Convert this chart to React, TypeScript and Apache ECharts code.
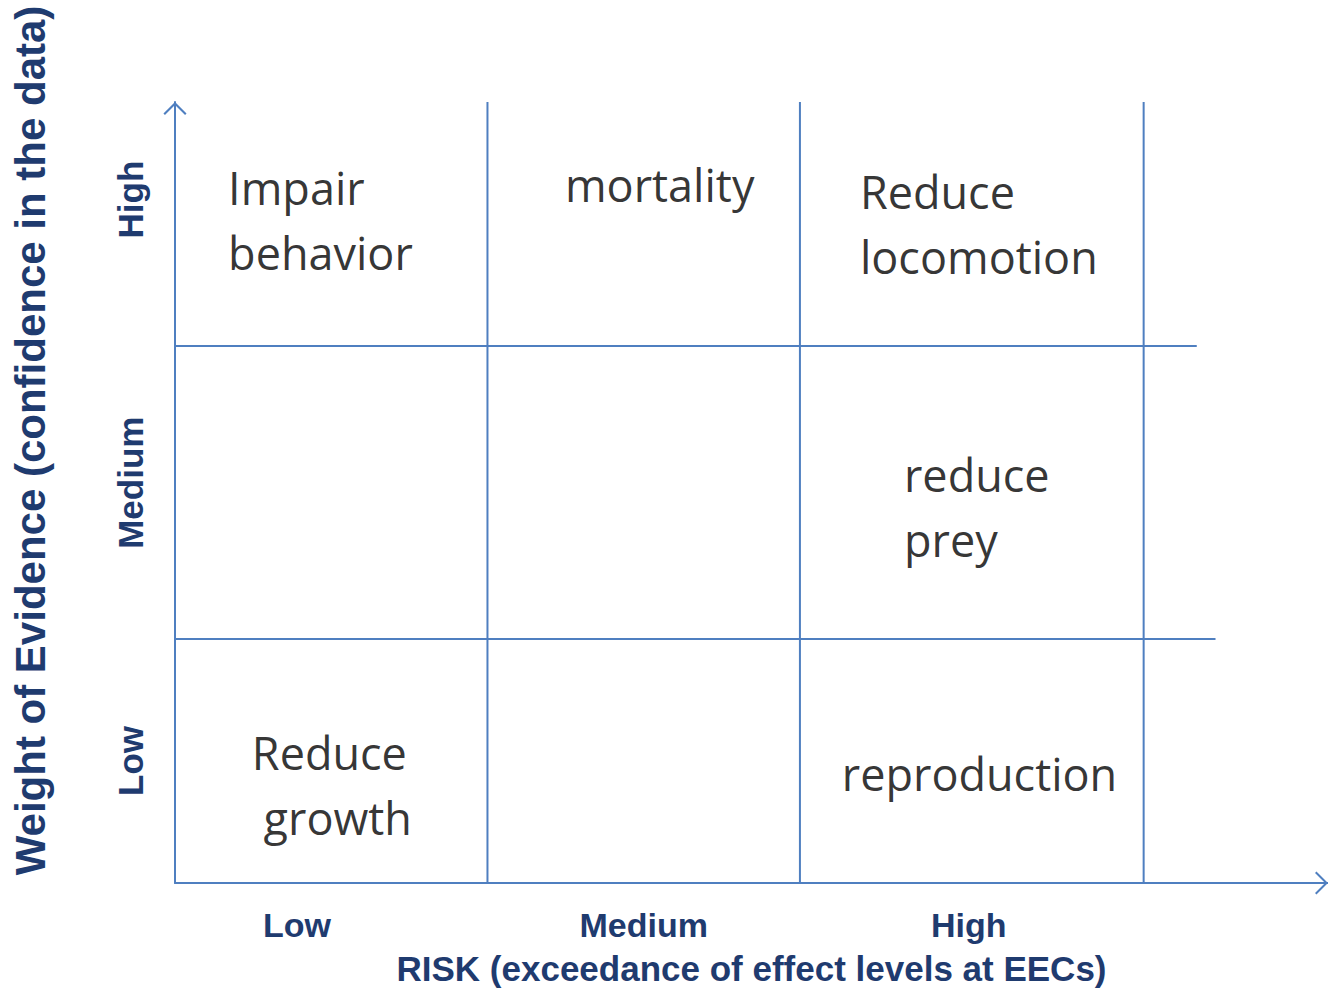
import React, { useEffect, useRef } from "react";
import * as echarts from "echarts";

// Axis categories and where their labels sit (in axis units)
const riskLevels = ["Low", "Medium", "High"];
const riskLabelAt = [0.39, 1.5, 2.54];
const evidenceLevels = ["Low", "Medium", "High"];
const evidenceLabelAt = [0.5, 1.64, 2.8];

// Matrix dividers (axis units)
const riskDividers = [1, 2, 3.1];
const evidenceDividers = [1, 2.2];
const evidenceDividerEnds = [3.33, 3.27];

// Effects placed in the matrix
const effects = [
  "Impair\nbehavior",
  "mortality",
  "Reduce\nlocomotion",
  "reduce\nprey",
  "Reduce\n growth",
  "reproduction",
];
const effectRisk = [0.17, 1.248, 2.192, 2.333, 0.246, 2.134];
const effectEvidence = [2.717, 2.86, 2.7, 1.542, 0.4, 0.447];

const RISK_MAX = 3.69;
const EVIDENCE_MAX = 3.2;

const LINE = "#4f7fc0";
const LABEL = "#1f3b6f";
const CHEVRON = "path://M0,11 L11,0 L22,11 L20.6,12.4 L11,2.8 L1.4,12.4 Z";

export default function App() {
  const ref = useRef<HTMLDivElement>(null);

  useEffect(() => {
    if (!ref.current) return;
    const chart = echarts.init(ref.current, undefined, { renderer: "svg" });

    const dividerSeries: any[] = [];
    riskDividers.forEach((x, i) => {
      dividerSeries.push({
        type: "line",
        name: "risk-divider-" + i,
        data: [
          [x, 0],
          [x, EVIDENCE_MAX],
        ],
        symbol: "none",
        silent: true,
        lineStyle: { color: LINE, width: 2 },
      });
    });
    evidenceDividers.forEach((y, i) => {
      dividerSeries.push({
        type: "line",
        name: "evidence-divider-" + i,
        data: [
          [0, y],
          [evidenceDividerEnds[i], y],
        ],
        symbol: "none",
        silent: true,
        lineStyle: { color: LINE, width: 2 },
      });
    });

    const axisLabelFont = {
      fontFamily: "Liberation Sans, Arial, sans-serif",
      fontWeight: "bold" as const,
      fontSize: 34,
      color: LABEL,
    };

    chart.setOption({
      animation: false,
      backgroundColor: "#ffffff",
      grid: { left: 175, right: 0, top: 102, bottom: 108, containLabel: false },
      xAxis: {
        type: "value",
        min: 0,
        max: RISK_MAX,
        name: "RISK (exceedance of effect levels at EECs)",
        nameLocation: "middle",
        nameGap: 68,
        nameTextStyle: { ...axisLabelFont, fontSize: 35 },
        axisLine: {
          show: true,
          onZero: false,
          symbol: ["none", CHEVRON],
          symbolSize: [24, 13],
          symbolOffset: [0, -6.5],
          lineStyle: { color: LINE, width: 2 },
        },
        axisTick: { show: false },
        splitLine: { show: false },
        axisLabel: {
          customValues: riskLabelAt,
          margin: 25,
          ...axisLabelFont,
          formatter: (v: number) => riskLevels[riskLabelAt.indexOf(v)] ?? "",
        },
      },
      yAxis: {
        type: "value",
        min: 0,
        max: EVIDENCE_MAX,
        name: "Weight of Evidence (confidence in the data)",
        nameLocation: "middle",
        nameGap: 124,
        nameTextStyle: {
          ...axisLabelFont,
          fontSize: 42,
          padding: [0, 0, 0, 104],
        },
        axisLine: {
          show: true,
          onZero: false,
          symbol: ["none", CHEVRON],
          symbolSize: [24, 13],
          symbolOffset: [0, -6.5],
          lineStyle: { color: LINE, width: 2 },
        },
        axisTick: { show: false },
        splitLine: { show: false },
        axisLabel: {
          customValues: evidenceLabelAt,
          rotate: 90,
          margin: 27,
          ...axisLabelFont,
          fontSize: 35,
          formatter: (v: number) =>
            evidenceLevels[evidenceLabelAt.indexOf(v)] ?? "",
        },
      },
      series: [
        ...dividerSeries,
        {
          type: "scatter",
          name: "effects",
          silent: true,
          symbolSize: 1,
          itemStyle: { color: "transparent" },
          data: effects.map((t, i) => ({
            name: t,
            value: [effectRisk[i], effectEvidence[i]],
          })),
          label: {
            show: true,
            formatter: "{b}",
            position: "inside",
            align: "left",
            verticalAlign: "middle",
            fontFamily: "Open Sans, Noto Sans, sans-serif",
            fontSize: 45,
            lineHeight: 65,
            color: "#000000",
          },
        },
      ],
    });

    return () => chart.dispose();
  }, []);

  return (
    <div
      ref={ref}
      style={{
        position: "fixed",
        left: 0,
        top: 0,
        width: 1328,
        height: 991,
        background: "#ffffff",
      }}
    />
  );
}
